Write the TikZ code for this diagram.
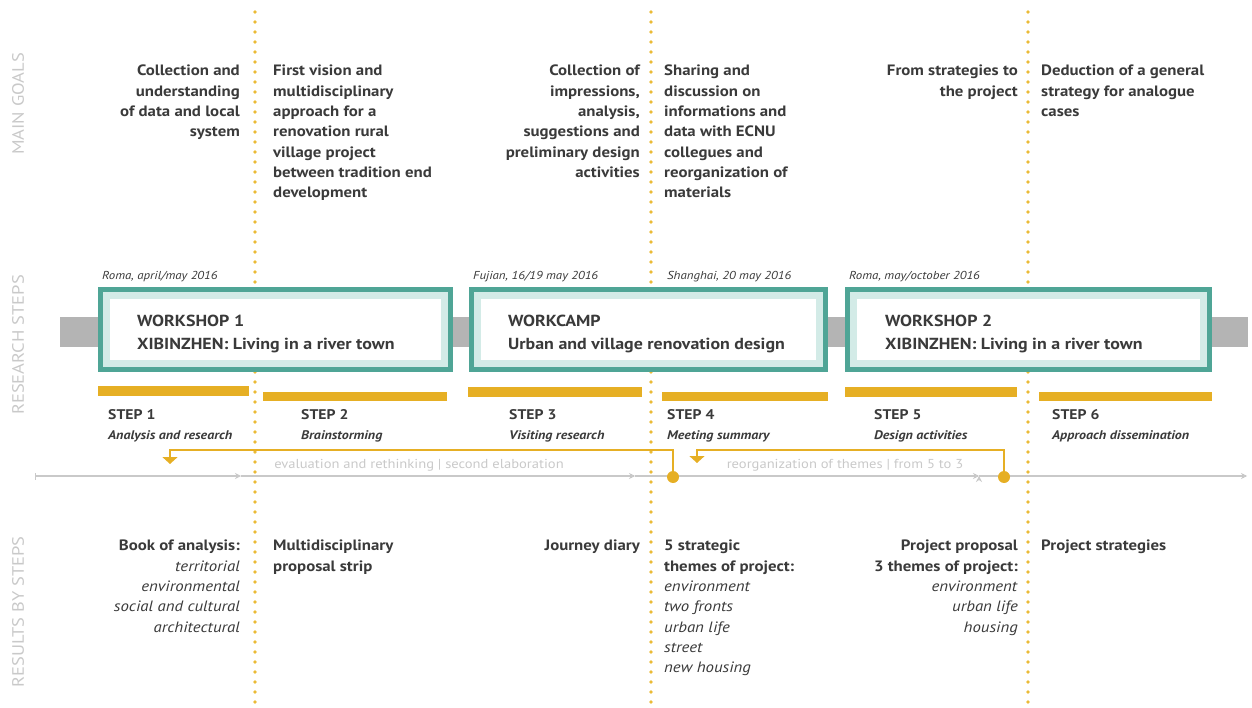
\documentclass[tikz,border=0pt]{standalone}
\usepackage{fontspec}
\setmainfont{PT Sans}[FakeStretch=1.12]
\usetikzlibrary{positioning,arrows.meta}

\definecolor{goldbar}{HTML}{E6AF24}
\definecolor{golddot}{HTML}{EBBB36}
\definecolor{tealline}{HTML}{4FA596}
\definecolor{tealpale}{HTML}{D3EBE7}
\definecolor{bandgrey}{HTML}{B4B4B4}
\definecolor{lightgrey}{HTML}{C9C9C9}
\definecolor{inkgrey}{HTML}{3A3A3A}

\newcommand{\resitem}[1]{\textmd{\textit{#1}}}

\begin{document}
\begin{tikzpicture}[x=1pt, y=-1pt]
% STYLES
\tikzset{%
    goal/.style={%
inner sep=0pt,
text=inkgrey,
font=\bfseries\fontsize{15}{20.3}\selectfont
                },
    goalright/.style={goal, anchor=north east, align=right},
    goalleft/.style={goal, anchor=north west, align=left},
    sidelabel/.style={rotate=90, inner sep=0pt, text=lightgrey,
font=\fontsize{16.5}{16.5}\selectfont},
    wsbox/.style={%
rectangle,
fill=white,
draw=tealpale,
line width=7pt,
preaction={draw=tealline, line width=17pt},
minimum height=68pt,
inner sep=0pt
                 },
    boxtext/.style={anchor=north west, align=left, inner sep=0pt, text=inkgrey,
font=\bfseries\fontsize{16}{23}\selectfont},
    datelabel/.style={anchor=south west, inner sep=0pt, text=inkgrey,
font=\itshape\fontsize{11.5}{12}\selectfont},
    stepbar/.style={rectangle, fill=goldbar, inner sep=0pt},
    steplabel/.style={anchor=north west, align=left, inner sep=0pt, text=inkgrey,
font=\bfseries\fontsize{14}{20}\selectfont},
    flowlabel/.style={inner sep=0pt, text=lightgrey, font=\fontsize{13}{13}\selectfont},
    timeline/.style={draw=lightgrey, line width=1.2pt, -{Stealth[length=6pt,width=6pt]}},
    feedback/.style={draw=goldbar, line width=1.6pt, -{Triangle[width=15pt,length=7pt]}},
    hub/.style={circle, fill=goldbar, minimum size=12pt, inner sep=0pt},
    dotline/.style={draw=golddot, line width=3.6pt, line cap=round, dash pattern=on 0pt off 10pt}
             }
\useasboundingbox (0,0) rectangle (1252,708);

% Side titles
\node [sidelabel] (goalstitle) at (18,104) {MAIN GOALS};
\node [sidelabel] (stepstitle) at (18,345) {RESEARCH STEPS};
\node [sidelabel] (resultstitle) at (18,612) {RESULTS BY STEPS};

% Band and phase separators
\fill [bandgrey] (60,317) rectangle (1248,347);
\foreach \x in {255,651,1028}
    \draw [dotline] (\x,12) -- (\x,706);

% Draw workshops
\node [wsbox, minimum width=338pt] (ws1) at (275.5,329.5) {};
\node [wsbox, minimum width=342pt] (camp) at (648.5,329.5) {};
\node [wsbox, minimum width=350pt] (ws2) at (1028.5,329.5) {};
\node [boxtext] (ws1text) at (137,315) {WORKSHOP 1\\XIBINZHEN: Living in a river town};
\node [boxtext] (camptext) at (508,315) {WORKCAMP\\Urban and village renovation design};
\node [boxtext] (ws2text) at (885,315) {WORKSHOP 2\\XIBINZHEN: Living in a river town};
\node [datelabel] (rome1) at (102,282) {Roma, april/may 2016};
\node [datelabel] (fujian) at (473,282) {Fujian, 16/19 may 2016};
\node [datelabel] (shanghai) at (667,282) {Shanghai, 20 may 2016};
\node [datelabel] (rome2) at (849,282) {Roma, may/october 2016};

% Draw steps
\node [stepbar, minimum width=151pt, minimum height=10pt] (bar1) at (173.5,391) {};
\node [stepbar, minimum width=184pt, minimum height=9pt] (bar2) at (355,396.5) {};
\node [stepbar, minimum width=174pt, minimum height=10pt] (bar3) at (555,392) {};
\node [stepbar, minimum width=166pt, minimum height=9pt] (bar4) at (745,396.5) {};
\node [stepbar, minimum width=172pt, minimum height=10pt] (bar5) at (931,392) {};
\node [stepbar, minimum width=173pt, minimum height=9pt] (bar6) at (1125.5,396.5) {};
\node [steplabel] (step1) at (108,409) {STEP 1\\{\fontsize{12.5}{20}\selectfont\itshape Analysis and research}};
\node [steplabel] (step2) at (301,409) {STEP 2\\{\fontsize{12.5}{20}\selectfont\itshape Brainstorming}};
\node [steplabel] (step3) at (509,409) {STEP 3\\{\fontsize{12.5}{20}\selectfont\itshape Visiting research}};
\node [steplabel] (step4) at (667,409) {STEP 4\\{\fontsize{12.5}{20}\selectfont\itshape Meeting summary}};
\node [steplabel] (step5) at (874,409) {STEP 5\\{\fontsize{12.5}{20}\selectfont\itshape Design activities}};
\node [steplabel] (step6) at (1052,409) {STEP 6\\{\fontsize{12.5}{20}\selectfont\itshape Approach dissemination}};

% Draw the time line
\coordinate (t0) at (35,476);
\coordinate (t1) at (241,476);
\coordinate (t2) at (635,476);
\coordinate (t3) at (979,476);
\coordinate (t4) at (1247,476);
\draw [timeline, {Bar[width=7pt]}-{Stealth[length=6pt,width=6pt]}] (t0) -- (t1);
\path [timeline]
(t1) edge (t2)
(t2) edge (t3)
(t3) edge (t4);
\node [flowlabel] (flowA) at (419,465) {evaluation and rethinking | second elaboration};
\node [flowlabel] (flowB) at (845,465) {reorganization of themes | from 5 to 3};

% Draw the feedback loops
\node [hub] (hubA) at (673,477) {};
\node [hub] (hubB) at (1004,477) {};
\coordinate (backA) at (170,464);
\coordinate (backB) at (697,463);
\draw [feedback] (hubA) -- ++(0,-27) -| (backA);
\draw [feedback] (hubB) -- ++(0,-27) -| (backB);

% Main goals
\node [goalright] (goal1) at (240,65) {Collection and\\understanding\\of data and local\\system};
\node [goalleft] (goal2) at (273,65) {First vision and\\multidisciplinary\\approach for a\\renovation rural\\village project\\between tradition end\\development};
\node [goalright] (goal3) at (640,65) {Collection of\\impressions,\\analysis,\\suggestions and\\preliminary design\\activities};
\node [goalleft] (goal4) at (664,65) {Sharing and\\discussion on\\informations and\\data with ECNU\\collegues and\\reorganization of\\materials};
\node [goalright] (goal5) at (1018,65) {From strategies to\\the project};
\node [goalleft] (goal6) at (1041,65) {Deduction of a general\\strategy for analogue\\cases};

% Results by steps
\node [goalright] (result1) at (240,540) {Book of analysis:\\\resitem{territorial}\\\resitem{environmental}\\\resitem{social and cultural}\\\resitem{architectural}};
\node [goalleft] (result2) at (273,540) {Multidisciplinary\\proposal strip};
\node [goalright] (result3) at (640,540) {Journey diary};
\node [goalleft] (result4) at (664,540) {5 strategic\\themes of project:\\\resitem{environment}\\\resitem{two fronts}\\\resitem{urban life}\\\resitem{street}\\\resitem{new housing}};
\node [goalright] (result5) at (1018,540) {Project proposal\\3 themes of project:\\\resitem{environment}\\\resitem{urban life}\\\resitem{housing}};
\node [goalleft] (result6) at (1041,540) {Project strategies};
\end{tikzpicture}
\end{document}
